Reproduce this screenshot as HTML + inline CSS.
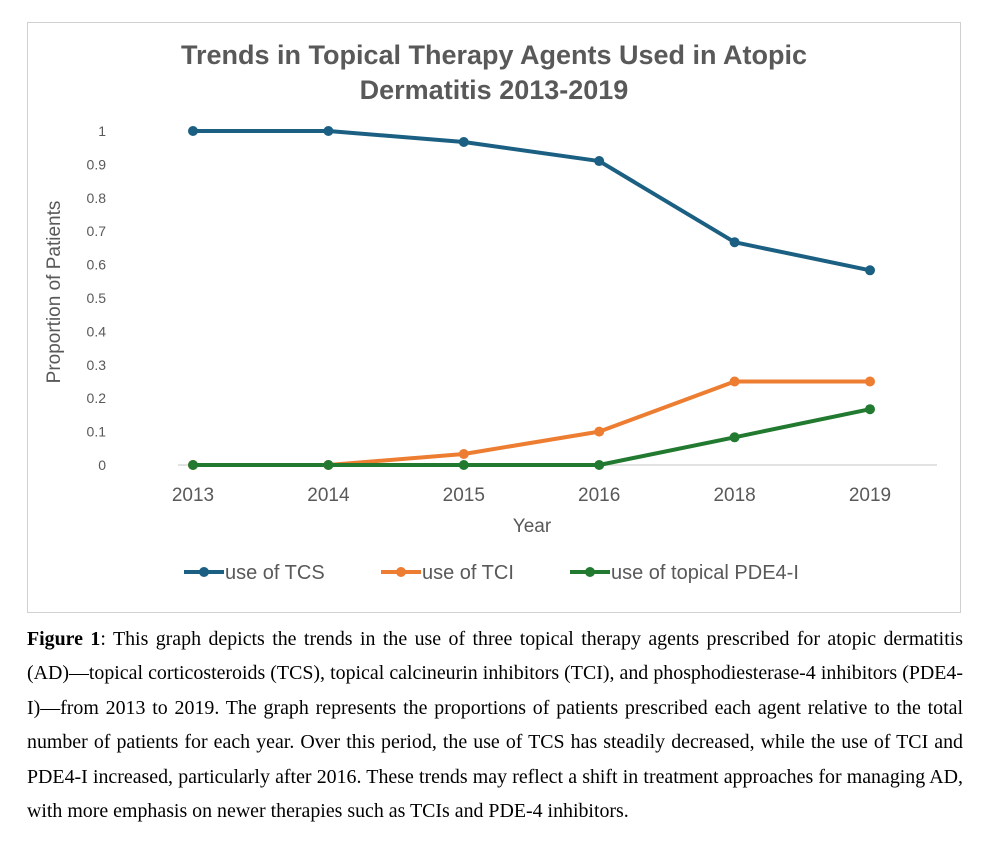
<!DOCTYPE html>
<html><head><meta charset="utf-8"><style>
body{margin:0;background:#fff;width:982px;height:844px;position:relative;overflow:hidden}
#box{position:absolute;left:27px;top:22px;width:934px;height:591px;border:1px solid #d0d0d0;box-sizing:border-box}
#cap{position:absolute;left:27px;top:622px;width:936px;font-family:"Liberation Serif",serif;font-size:19.9px;line-height:34.4px;color:#000}
#cap span{display:block;text-align:justify;text-align-last:justify;white-space:nowrap}
#cap span.last{text-align-last:left}
</style></head><body>
<div id="box"></div>
<svg id="chart" width="982" height="620" style="position:absolute;left:0;top:0" font-family="Liberation Sans, sans-serif">
<text x="494" y="64" text-anchor="middle" font-size="27" font-weight="bold" fill="#595959">Trends in Topical Therapy Agents Used in Atopic</text>
<text x="494" y="99" text-anchor="middle" font-size="27" font-weight="bold" fill="#595959">Dermatitis 2013-2019</text>
<text transform="translate(60,292) rotate(-90)" text-anchor="middle" font-size="19" fill="#595959">Proportion of Patients</text>
<text x="532" y="532" text-anchor="middle" font-size="19" fill="#595959">Year</text>
<g id="ticks"></g><g id="lines"></g>
<g font-size="20" fill="#595959">
<line x1="184" y1="572" x2="224" y2="572" stroke="#1b5f82" stroke-width="4"/><circle cx="204" cy="572" r="5" fill="#1b5f82"/>
<text x="225" y="579">use of TCS</text>
<line x1="381" y1="572" x2="421" y2="572" stroke="#ed7d31" stroke-width="4"/><circle cx="401" cy="572" r="5" fill="#ed7d31"/>
<text x="422" y="579">use of TCI</text>
<line x1="570" y1="572" x2="610" y2="572" stroke="#217a2f" stroke-width="4"/><circle cx="590" cy="572" r="5" fill="#217a2f"/>
<text x="611" y="579">use of topical PDE4-I</text>
</g>
</svg>
<div id="cap">
<span><b>Figure 1</b>: This graph depicts the trends in the use of three topical therapy agents prescribed for atopic dermatitis</span>
<span>(AD)—topical corticosteroids (TCS), topical calcineurin inhibitors (TCI), and phosphodiesterase-4 inhibitors (PDE4-</span>
<span>I)—from 2013 to 2019. The graph represents the proportions of patients prescribed each agent relative to the total</span>
<span>number of patients for each year. Over this period, the use of TCS has steadily decreased, while the use of TCI and</span>
<span>PDE4-I increased, particularly after 2016. These trends may reflect a shift in treatment approaches for managing AD,</span>
<span class="last">with more emphasis on newer therapies such as TCIs and PDE-4 inhibitors.</span>
</div>
<script>
const years=["2013","2014","2015","2016","2018","2019"];
const tcs=[1,1,0.967,0.91,0.667,0.583];
const tci=[0,0,0.033,0.1,0.25,0.25];
const pde=[0,0,0,0,0.083,0.167];
const yTicks=["0","0.1","0.2","0.3","0.4","0.5","0.6","0.7","0.8","0.9","1"];
const NS="http://www.w3.org/2000/svg";
function xs(i){return 193+i*135.4;}
function ys(v){return 465-v*334;}
const tg=document.getElementById('ticks'),lg=document.getElementById('lines');
function mk(t,a,p){const e=document.createElementNS(NS,t);for(const k in a)e.setAttribute(k,a[k]);p.appendChild(e);return e;}
const ax=mk('line',{x1:178,x2:937,y1:465,y2:465,stroke:'#d9d9d9','stroke-width':1.5},tg);


yTicks.forEach((t,i)=>{const e=mk('text',{x:106,y:ys(+t)+5,'text-anchor':'end','font-size':14,fill:'#595959'},tg);e.textContent=t;

});
years.forEach((t,i)=>{const e=mk('text',{x:xs(i),y:501,'text-anchor':'middle','font-size':19,fill:'#595959'},tg);e.textContent=t;

});
[[tcs,'#1b5f82','tcs'],[tci,'#ed7d31','tci'],[pde,'#217a2f','pde4']].forEach(([d,c,n])=>{
const g=mk('g',{},lg);


mk('polyline',{points:d.map((v,i)=>xs(i)+','+ys(v)).join(' '),fill:'none',stroke:c,'stroke-width':4,'stroke-linejoin':'round'},g);
d.forEach((v,i)=>{const p=mk('circle',{cx:xs(i),cy:ys(v),r:5,fill:c},g);

});
});
</script>
</body></html>
